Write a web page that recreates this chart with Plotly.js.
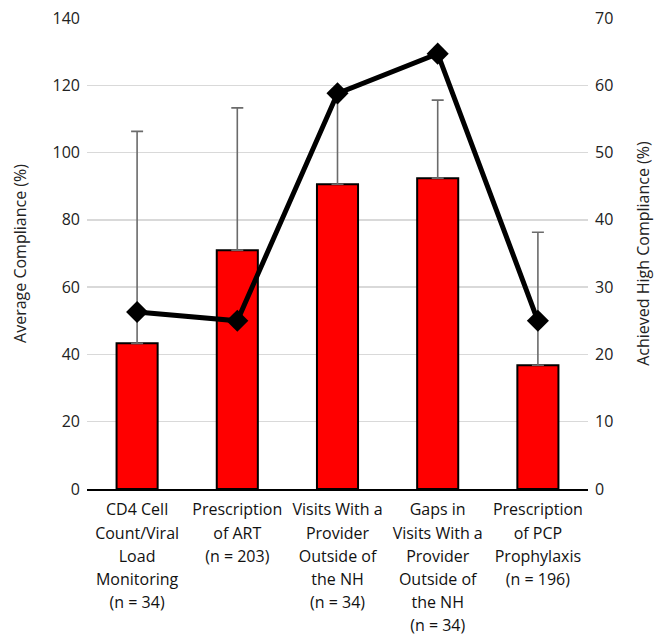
<!DOCTYPE html>
<html>
<head>
<meta charset="utf-8">
<script src="https://cdn.plot.ly/plotly-3.0.1.min.js"></script>
<style>html,body{margin:0;padding:0;background:#fff;}#chart{width:654px;height:639px;}</style>
</head>
<body>
<div id="chart"></div>
<script>
var categories = [
  "CD4 Cell<br>Count/Viral<br>Load<br>Monitoring<br>(n = 34)",
  "Prescription<br>of ART<br>(n = 203)",
  "Visits With a<br>Provider<br>Outside of<br>the NH<br>(n = 34)",
  "Gaps in<br>Visits With a<br>Provider<br>Outside of<br>the NH<br>(n = 34)",
  "Prescription<br>of PCP<br>Prophylaxis<br>(n = 196)"
];
var averageCompliance = [43.3, 71.0, 90.6, 92.4, 36.8];
var averageComplianceSD = [63.0, 42.3, 26.5, 23.2, 39.5];
var achievedHighCompliance = [26.3, 25.0, 58.8, 64.7, 25.0];
var leftTicks = [0, 20, 40, 60, 80, 100, 120, 140];
var rightTicks = [0, 10, 20, 30, 40, 50, 60, 70];

var font = "Open Sans, sans-serif";
// wrap each label line so glyphs are 16px while line spacing follows a larger base size
var categoryTickText = categories.map(function (c) {
  return c.split("<br>").map(function (line) {
    return "<span style='font-size:16px'>" + line + "</span>";
  }).join("<br>");
});

var traces = [
  {
    type: "bar",
    x: categories,
    y: averageCompliance,
    marker: {color: "#ff0000", line: {color: "#000000", width: 2}},
    error_y: {type: "data", array: averageComplianceSD, symmetric: false, arrayminus: [0,0,0,0,0], color: "#6b6b6b", thickness: 1.6, width: 6},
    yaxis: "y",
    hoverinfo: "y"
  },
  {
    type: "scatter",
    mode: "lines+markers",
    x: categories,
    y: achievedHighCompliance,
    yaxis: "y2",
    line: {color: "#000000", width: 5},
    marker: {symbol: "diamond", size: 17, color: "#000000"},
    cliponaxis: false
  }
];
var layout = {
  width: 654,
  height: 639,
  margin: {l: 87, r: 66, t: 18, b: 150},
  paper_bgcolor: "#ffffff",
  plot_bgcolor: "#ffffff",
  showlegend: false,
  bargap: 0.59,
  font: {family: font, color: "#222222"},
  xaxis: {
    showgrid: false,
    showline: true,
    linecolor: "#000000",
    linewidth: 2,
    ticks: "",
    tickvals: categories,
    ticktext: categoryTickText,
    tickfont: {family: font, size: 17.8, color: "#111111"},
    tickangle: 0,
    ticklabelstandoff: 3,
    fixedrange: true
  },
  yaxis: {
    range: [0, 140],
    tickvals: leftTicks,
    ticktext: leftTicks.map(String),
    showgrid: true,
    gridcolor: "#d9d9d9",
    gridwidth: 1.5,
    zeroline: false,
    showline: false,
    tickfont: {family: font, size: 16, color: "#222222"},
    title: {text: "Average Compliance (%)", font: {family: font, size: 16, color: "#222222"}, standoff: 21},
    ticklabelstandoff: 6
  },
  yaxis2: {
    range: [0, 70],
    tickvals: rightTicks,
    ticktext: rightTicks.map(String),
    overlaying: "y",
    side: "right",
    showgrid: false,
    zeroline: false,
    showline: false,
    tickfont: {family: font, size: 16, color: "#222222"},
    title: {text: "Achieved High Compliance (%)", font: {family: font, size: 16, color: "#222222"}, standoff: 27},
    ticklabelstandoff: 6
  }
};
Plotly.newPlot("chart", traces, layout, {displayModeBar: false, staticPlot: true});
</script>
</body>
</html>
